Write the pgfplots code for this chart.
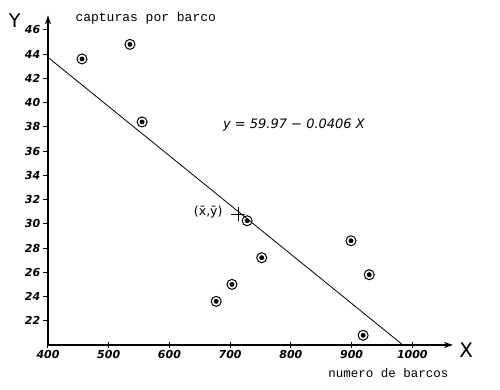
\documentclass[border=0pt]{standalone}
\usepackage{pgfplots}
\pgfplotsset{compat=1.18}
\usepackage{pgfplotstable}
\usetikzlibrary{arrows.meta}
\usepackage{fontspec}
\setmainfont{DejaVu Sans}
\newfontfamily\mono{Liberation Mono}
\newfontfamily\hand{DejaVu Sans}

\pgfplotstableread{
x y
456 43.6
535 44.8
555 38.4
677 23.6
703 25.0
728 30.25
752 27.2
899 28.6
929 25.8
919 20.8
}\data

\begin{document}
\begin{tikzpicture}
\begin{axis}[
  at={(0,0)}, anchor=south west,
  scale only axis, width=405pt, height=329.7pt,
  xmin=400, xmax=1067, ymin=20, ymax=47.2,
  axis lines=left,
  axis line style={line width=1.3pt, -{Stealth[length=9pt,width=6pt]}},
  xtick={400,500,...,1000}, ytick={22,24,...,46},
  /pgf/number format/assume math mode=true,
  /pgf/number format/1000 sep={},
  tick label style={font=\hand\bfseries\itshape\fontsize{11}{13}\selectfont},
  xtick style={line width=1pt, black},
  ytick style={line width=1pt, black},
  x tick style={/pgfplots/major tick length=6pt},
  y tick style={/pgfplots/major tick length=5pt},
  xtick align=center, ytick align=outside,
  clip=false,
]
\addplot[black, line width=0.8pt] coordinates {(400,43.73) (984.5,20)};
\addplot[only marks, mark=o, mark size=5pt, mark options={line width=1pt, black}] table {\data};
\addplot[only marks, mark=*, mark size=2.2pt, mark options={black}] table {\data};
\addplot[only marks, mark=+, mark size=7pt, mark options={line width=0.8pt, black}] coordinates {(713,30.8)};
\node[anchor=east, font=\hand\fontsize{12.5}{14}\selectfont, xshift=-12pt, yshift=2pt] at (axis cs:713,30.8) {(\={x},\={y})};
\node[font=\hand\itshape\fontsize{13}{15}\selectfont] at (axis cs:805,38.15) {y = 59.97 − 0.0406 X};
\node[anchor=west, font=\mono\fontsize{13}{15}\selectfont] at (axis cs:439.5,46.98) {capturas por barco};
\node[anchor=west, font=\mono\fontsize{12.5}{15}\selectfont] at (axis cs:856,17.69) {numero de barcos};
\node[font=\hand\fontsize{19}{22}\selectfont] at (axis cs:345,46.75) {Y};
\node[font=\hand\fontsize{20}{22}\selectfont] at (axis cs:1088.6,19.6) {X};
\end{axis}
\pgfresetboundingbox
\path (-48pt,-45pt) rectangle (452pt,345pt);
\end{tikzpicture}
\end{document}
